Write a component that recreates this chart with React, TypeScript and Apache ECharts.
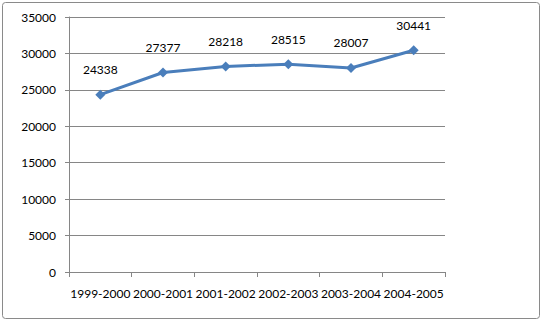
import React, { useEffect, useRef } from "react";
import * as echarts from "echarts";

const categories = ["1999-2000", "2000-2001", "2001-2002", "2002-2003", "2003-2004", "2004-2005"];
const values = [24338, 27377, 28218, 28515, 28007, 30441];
const yTicks = { min: 0, max: 35000, interval: 5000 };

export default function App() {
  const ref = useRef<HTMLDivElement>(null);
  useEffect(() => {
    const chart = echarts.init(ref.current!, null, { renderer: "svg" });
    const font = "Lato, 'Open Sans', sans-serif";
    chart.setOption({
      animation: false,
      backgroundColor: "#ffffff",
      graphic: [
        {
          type: "rect",
          shape: { x: 2.5, y: 2.5, width: 537, height: 316, r: 3 },
          style: { fill: "none", stroke: "#8a8a8a", lineWidth: 1 },
          silent: true,
        },
      ],
      grid: { left: 69, right: 98, top: 17, bottom: 50, containLabel: false },
      xAxis: {
        type: "category",
        data: categories,
        boundaryGap: true,
        axisLine: { show: true, lineStyle: { color: "#868686", width: 1 } },
        axisTick: { show: true, alignWithLabel: false, length: 5, lineStyle: { color: "#868686" } },
        axisLabel: { color: "#000", fontFamily: font, fontSize: 12, margin: 15, interval: 0 },
        splitLine: { show: false },
      },
      yAxis: {
        type: "value",
        min: yTicks.min,
        max: yTicks.max,
        interval: yTicks.interval,
        axisLine: { show: true, lineStyle: { color: "#868686", width: 1 } },
        axisTick: { show: true, length: 4, lineStyle: { color: "#868686" } },
        axisLabel: {
          color: "#000",
          fontFamily: font,
          fontSize: 12,
          margin: 13,
          formatter: (v: number) => String(v),
        },
        splitLine: { show: true, lineStyle: { color: "#868686", width: 1 } },
      },
      series: [
        {
          type: "line",
          data: values,
          symbol: "diamond",
          symbolSize: 10,
          lineStyle: { color: "#4a7ebb", width: 3 },
          itemStyle: { color: "#4a7ebb" },
          label: {
            show: true,
            position: "top",
            distance: 14,
            color: "#000",
            fontFamily: font,
            fontSize: 12,
          },
        },
      ],
    });
    return () => chart.dispose();
  }, []);
  return (
    <div
      ref={ref}
      style={{ position: "absolute", left: 0, top: 0, width: 543, height: 322 }}
    />
  );
}
